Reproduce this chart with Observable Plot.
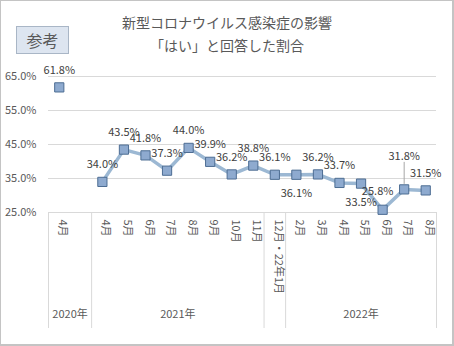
<!DOCTYPE html>
<html>
<head>
<meta charset="utf-8">
<script src="https://cdn.jsdelivr.net/npm/d3@7"></script>
<script src="https://cdn.jsdelivr.net/npm/@observablehq/plot@0.6"></script>
<style>
  html, body { margin: 0; padding: 0; background: #fff; }
  #wrap { position: relative; width: 454px; height: 346px; overflow: hidden; background: #fff;
          font-family: "Noto Sans CJK JP", "Noto Sans", sans-serif; color: #595959; }
  #wrap svg { position: absolute; left: 0; top: 0; }
  .title { position: absolute; left: 0; width: 454px; text-align: center; font-size: 14px; line-height: 18px; color: #595959; }
  #t1 { top: 13px; }
  #t2 { top: 36px; }
  #ref { position: absolute; left: 16px; top: 26px; width: 53px; height: 28px; box-sizing: border-box;
         background: #dde5f0; border: 1px solid #a9b6c6; font-size: 16px; line-height: 26px; text-align: center; color: #595959; }
  #border { position: absolute; left: 0; top: 0; width: 454px; height: 346px; box-sizing: border-box;
            border: 1px solid #c4c4c4; border-right-width: 2px; border-bottom-width: 2px; pointer-events: none; }
</style>
</head>
<body>
<div id="wrap">
  <div class="title" id="t1">新型コロナウイルス感染症の影響</div>
  <div class="title" id="t2">「はい」と回答した割合</div>
  <div id="ref">参考</div>
</div>
<script>
// ---- data ----
const months = ["4月", "", "4月", "5月", "6月", "7月", "8月", "9月", "10月", "11月", "12月・22年1月", "2月", "3月", "4月", "5月", "6月", "7月", "8月"];
const years  = ["2020年", "2020年", "2021年", "2021年", "2021年", "2021年", "2021年", "2021年", "2021年", "2021年", "", "2022年", "2022年", "2022年", "2022年", "2022年", "2022年", "2022年"];
const values = [61.8, null, 34.0, 43.5, 41.8, 37.3, 44.0, 39.9, 36.2, 38.8, 36.1, 36.1, 36.2, 33.7, 33.5, 25.8, 31.8, 31.5];
const yTicks = [25, 35, 45, 55, 65];

// ---- derived tables ----
const n = months.length;
const rows = months.map((m, i) => ({i, month: m, year: years[i], v: values[i] == null ? NaN : values[i]}));
const pts = rows.filter(d => !isNaN(d.v));

// groups of consecutive equal year labels
const groups = [];
years.forEach((y, i) => {
  if (i === 0 || y !== years[i - 1]) groups.push({label: y, start: i, end: i + 1});
  else groups[groups.length - 1].end = i + 1;
});
const bounds = [0, ...groups.map(g => g.end)];

// label placement
const placeBelow = new Set([11, 14]);
const placeLeft = new Set([15]);
const placeHigh = new Set([16]);
const above = pts.filter(d => !placeBelow.has(d.i) && !placeLeft.has(d.i) && !placeHigh.has(d.i));
const below = pts.filter(d => placeBelow.has(d.i));
const left = pts.filter(d => placeLeft.has(d.i));
const high = pts.filter(d => placeHigh.has(d.i));

const X = d => d.i + 0.5;
const fmt = d => d.v.toFixed(1) + "%";
const lblStyle = {fill: "#404040", fontSize: 11};

const chart = Plot.plot({
  width: 454,
  height: 346,
  marginTop: 76,
  marginBottom: 134,
  marginLeft: 48,
  marginRight: 18,
  style: {fontFamily: "'Noto Sans CJK JP', 'Noto Sans', sans-serif", fontSize: "11px", color: "#595959", background: "transparent", overflow: "visible"},
  x: {type: "linear", domain: [0, n], axis: null},
  y: {domain: [25, 65], axis: null},
  marks: [
    Plot.gridY(yTicks, {stroke: "#d9d9d9", strokeOpacity: 1}),
    Plot.axisY(yTicks, {tickFormat: d => d.toFixed(1) + "%", tickSize: 0, tickPadding: 12, label: null, fill: "#595959", fontSize: 11}),
    Plot.ruleX(bounds, {x: d => d, stroke: "#d9d9d9", insetTop: 136, insetBottom: -116}),
    Plot.line(rows, {x: X, y: "v", stroke: "#9cb8d3", strokeWidth: 3.5, curve: "linear"}),
    Plot.ruleX(high, {x: X, y1: "v", y2: "v", stroke: "#a6a6a6", strokeWidth: 1, insetTop: -27, insetBottom: 5}),
    Plot.dot(pts, {x: X, y: "v", symbol: "square", r: 5.2, fill: "#8eaacf", stroke: "#4d6d93", strokeWidth: 1}),
    Plot.text(above, {x: X, y: "v", text: fmt, dy: -17, ...lblStyle}),
    Plot.text(below, {x: X, y: "v", text: fmt, dy: 19, ...lblStyle}),
    Plot.text(left, {x: X, y: "v", text: fmt, dy: -18, dx: -5, ...lblStyle}),
    Plot.text(high, {x: X, y: "v", text: fmt, dy: -33, ...lblStyle}),
    Plot.text(rows.filter(d => d.month), {x: X, text: "month", frameAnchor: "bottom", dy: 7, rotate: 90, textAnchor: "start", fill: "#595959", fontSize: 11}),
    Plot.text(groups.filter(g => g.label), {x: g => (g.start + g.end) / 2, text: "label", frameAnchor: "bottom", dy: 105, fill: "#595959", fontSize: 11})
  ]
});

const wrap = document.getElementById("wrap");
wrap.insertBefore(chart, wrap.firstChild);
const b = document.createElement("div");
b.id = "border";
wrap.appendChild(b);
</script>
</body>
</html>
